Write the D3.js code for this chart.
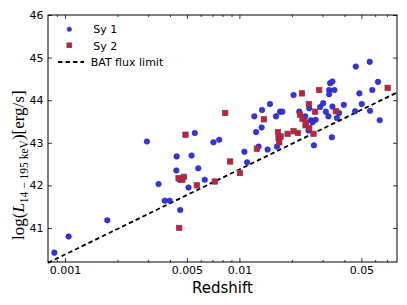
<!DOCTYPE html>
<html><head><meta charset="utf-8">
<script src="https://cdn.jsdelivr.net/npm/d3@7"></script>
<style>body{margin:0;background:#fff}svg{display:block}</style>
</head><body>
<script>
// ---- data ----
const sy1Z = [0.00087,0.00105,0.00175,0.00295,0.00344,0.00373,0.00398,0.00437,0.00435,0.00454,0.00458,0.00511,0.00532,0.00555,0.00581,0.00633,0.0071,0.00766,0.01068,0.01107,0.01218,0.01246,0.01289,0.01348,0.01341,0.01497,0.01451,0.01642,0.01621,0.01709,0.01761,0.02043,0.02203,0.02383,0.02512,0.02489,0.02568,0.02623,0.02735,0.02672,0.02904,0.0302,0.03129,0.03238,0.03311,0.03412,0.03268,0.03503,0.03268,0.03386,0.03412,0.03616,0.03727,0.03965,0.04602,0.04645,0.04869,0.05025,0.05582,0.05604,0.05776,0.06226,0.06368];
const sy1L = [40.42,40.80,41.18,43.03,42.03,41.64,41.64,42.68,42.35,42.13,41.42,41.95,42.70,43.23,42.40,42.13,43.01,43.07,42.79,42.54,43.62,43.25,42.91,43.77,43.36,43.91,42.84,42.91,43.62,43.73,43.73,44.12,43.73,43.62,43.81,43.29,43.53,43.48,43.54,42.94,43.84,43.93,43.73,43.62,44.40,44.44,44.24,44.24,44.14,43.13,43.85,43.58,43.70,43.89,43.74,44.79,44.16,43.91,44.90,43.75,44.24,44.43,43.53];
const sy2Z = [0.00452,0.00448,0.00481,0.00471,0.00491,0.0057,0.00723,0.00829,0.00885,0.01007,0.01259,0.0138,0.01663,0.01722,0.01677,0.01693,0.01888,0.02043,0.02165,0.02282,0.02223,0.023,0.02405,0.02393,0.02502,0.02512,0.02658,0.02718,0.02865,0.03569,0.07073];
const sy2L = [41.00,42.17,42.20,42.13,43.19,42.00,42.09,43.70,42.56,42.29,42.86,43.55,43.25,43.15,43.11,43.01,43.21,43.27,43.23,44.16,43.66,43.56,43.48,43.41,43.91,43.35,43.21,43.73,44.24,43.74,44.29];
const limitZ = [0.0008, 0.08];
const limitL = [40.18, 44.18];
const xMajor = [0.001, 0.005, 0.01, 0.05];
const xMajorLabels = ["0.001", "0.005", "0.01", "0.05"];
const xMinor = [0.0009,0.002,0.003,0.004,0.006,0.007,0.008,0.009,0.02,0.03,0.04,0.06,0.07];
const yTicks = [41, 42, 43, 44, 45, 46];
const seriesNames = ["Sy 1", "Sy 2", "BAT flux limit"];

// ---- chart ----
const W = 407, H = 305;
const L = 48, R = 397, T = 15, B = 262;
const svg = d3.select("body").append("svg").attr("width", W).attr("height", H);
const x = d3.scaleLog().domain([0.0008, 0.08]).range([L, R]);
const y = d3.scaleLinear().domain([40.2, 46]).range([B, T]);
const font = "DejaVu Sans, sans-serif";
const blueFill = "#3434e6", blueEdge = "#1e1e90";
const redFill = "#dc143c", redEdge = "#505050";

const plot = svg.append("g");
// flux limit line
plot.append("path")
  .datum(limitZ.map((z, i) => [z, limitL[i]]))
  .attr("d", d3.line().x(d => x(d[0])).y(d => y(d[1])))
  .attr("fill", "none").attr("stroke", "#000").attr("stroke-width", 1.8)
  .attr("stroke-dasharray", "4.5,3");

// Sy1 circles
plot.selectAll("circle.sy1").data(sy1Z.map((z, i) => [z, sy1L[i]])).enter()
  .append("circle").attr("class", "sy1")
  .attr("cx", d => x(d[0])).attr("cy", d => y(d[1])).attr("r", 2.8)
  .attr("fill", blueFill).attr("stroke", blueEdge).attr("stroke-width", 0.5);

// Sy2 squares
const sq = 5.4;
plot.selectAll("rect.sy2").data(sy2Z.map((z, i) => [z, sy2L[i]])).enter()
  .append("rect").attr("class", "sy2")
  .attr("x", d => x(d[0]) - sq / 2).attr("y", d => y(d[1]) - sq / 2)
  .attr("width", sq).attr("height", sq)
  .attr("fill", redFill).attr("stroke", redEdge).attr("stroke-width", 0.7);

// axes
function styleAxis(g) {
  g.select(".domain").remove();
  g.selectAll("line").attr("stroke", "#000").attr("stroke-width", 0.8);
  g.selectAll("text").attr("font-family", font).attr("font-size", 11).attr("fill", "#000");
}
svg.append("g").attr("transform", `translate(0,${B})`)
  .call(d3.axisBottom(x).tickValues(xMajor).tickFormat((d, i) => xMajorLabels[i]).tickSizeInner(-4).tickSizeOuter(0).tickPadding(4.5))
  .call(styleAxis);
svg.append("g").attr("transform", `translate(0,${B})`)
  .call(d3.axisBottom(x).tickValues(xMinor).tickFormat("").tickSizeInner(-2).tickSizeOuter(0))
  .call(styleAxis);
svg.append("g").attr("transform", `translate(0,${T})`)
  .call(d3.axisTop(x).tickValues(xMajor).tickFormat("").tickSizeInner(-4).tickSizeOuter(0))
  .call(styleAxis);
svg.append("g").attr("transform", `translate(0,${T})`)
  .call(d3.axisTop(x).tickValues(xMinor).tickFormat("").tickSizeInner(-2).tickSizeOuter(0))
  .call(styleAxis);
svg.append("g").attr("transform", `translate(${L},0)`)
  .call(d3.axisLeft(y).tickValues(yTicks).tickFormat(d3.format("d")).tickSizeInner(-4).tickSizeOuter(0).tickPadding(4.5))
  .call(styleAxis);
svg.append("g").attr("transform", `translate(${R},0)`)
  .call(d3.axisRight(y).tickValues(yTicks).tickFormat("").tickSizeInner(-4).tickSizeOuter(0))
  .call(styleAxis);

// frame
svg.append("rect").attr("x", L).attr("y", T).attr("width", R - L).attr("height", B - T)
  .attr("fill", "none").attr("stroke", "#000").attr("stroke-width", 1);

// axis labels
svg.append("text").attr("x", (L + R) / 2).attr("y", 293).attr("text-anchor", "middle")
  .attr("font-family", font).attr("font-size", 15).attr("fill", "#000").text("Redshift");

const yl = svg.append("text").attr("transform", "translate(24,240) rotate(-90)")
  .attr("text-anchor", "start").attr("font-family", "Liberation Serif, serif")
  .attr("font-size", 17).attr("fill", "#000");
yl.append("tspan").text("log(");
yl.append("tspan").attr("font-style", "italic").text("L");
yl.append("tspan").attr("font-size", 11.5).attr("dy", 4).text("14 − 195 keV");
yl.append("tspan").attr("dy", -4).text(")[erg/s]");

// legend
const lg = svg.append("g");
lg.append("circle").attr("cx", 69.3).attr("cy", 29.3).attr("r", 2.2)
  .attr("fill", blueFill).attr("stroke", blueEdge).attr("stroke-width", 0.5);
lg.append("rect").attr("x", 69.3 - 2.4).attr("y", 45.3 - 2.4).attr("width", 4.8).attr("height", 4.8)
  .attr("fill", redFill).attr("stroke", redEdge).attr("stroke-width", 0.7);
lg.append("line").attr("x1", 58).attr("x2", 84).attr("y1", 62).attr("y2", 62)
  .attr("stroke", "#000").attr("stroke-width", 1.8).attr("stroke-dasharray", "4.5,3");
const lgText = [[93.3, 33.3], [93.3, 49.5], [90.7, 66]];
seriesNames.forEach((n, i) => {
  lg.append("text").attr("x", lgText[i][0]).attr("y", lgText[i][1])
    .attr("font-family", font).attr("font-size", 11).attr("fill", "#000").text(n);
});
</script>
</body></html>
